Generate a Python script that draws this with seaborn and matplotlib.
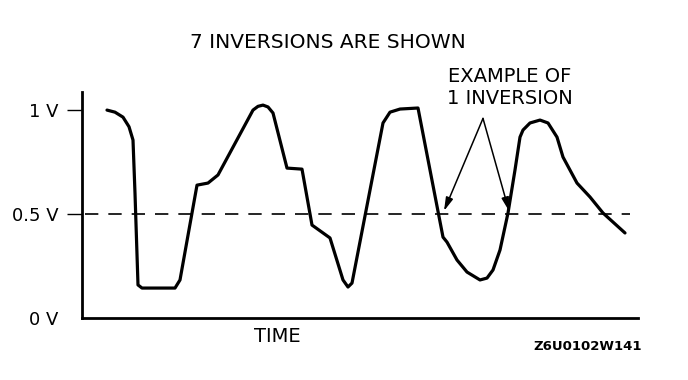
import matplotlib
matplotlib.use("Agg")
import matplotlib.pyplot as plt
import seaborn as sns
import pandas as pd

# --- DATA ---
# time in arbitrary units, signal in volts
time_units = [25, 33, 41, 47, 51, 53, 56, 60, 93, 98, 115, 126, 136, 171, 176, 181,
              186, 191, 205, 220, 230, 248, 261, 266, 270, 301, 308, 318, 336,
              361, 365, 375, 385, 398, 405, 411, 418, 426, 433, 438, 441, 448,
              458, 466, 475, 481, 495, 508, 521, 543]
volts = [1.0, 0.99, 0.966, 0.92, 0.856, 0.60, 0.159, 0.144, 0.144, 0.183, 0.639, 0.649,
         0.688, 1.0, 1.018, 1.024, 1.015, 0.986, 0.721, 0.716, 0.447, 0.385, 0.183,
         0.149, 0.168, 0.938, 0.990, 1.005, 1.01,
         0.389, 0.365, 0.279, 0.221, 0.183, 0.192, 0.231, 0.327, 0.505, 0.712,
         0.870, 0.904, 0.938, 0.952, 0.938, 0.870, 0.774, 0.649, 0.582, 0.505, 0.409]

threshold = 0.5
threshold_span = [3, 548]
ytick_values = [0, 0.5, 1.0]
ytick_labels = ["0 V", "0.5 V", "1 V"]

# inversion example: arrow start and the two crossings it points to
arrow_from = (401, 0.96)
arrow_to = [(362, 0.515), (427, 0.515)]

df = pd.DataFrame({"t": time_units, "v": volts})

sns.set_style("white")
plt.rcParams["font.family"] = ["DejaVu Sans"]
plt.rcParams["text.color"] = "black"

fig = plt.figure(figsize=(6.88, 3.80), dpi=100)
ax = fig.add_axes([82 / 688, 62 / 380, 556 / 688, 226 / 380])

sns.lineplot(data=df, x="t", y="v", sort=False, estimator=None,
             color="black", linewidth=2.3, ax=ax)
ax.lines[-1].set_solid_joinstyle("round")
ax.lines[-1].set_solid_capstyle("round")

# 0.5 V reference line
ax.hlines(threshold, threshold_span[0], threshold_span[1], colors="black",
          linestyles=(0, (8, 6)), linewidth=1.2)

ax.set_xlim(0, 556)
ax.set_ylim(0, 1.087)

for side in ["top", "right"]:
    ax.spines[side].set_visible(False)
for side in ["left", "bottom"]:
    ax.spines[side].set_color("black")
    ax.spines[side].set_linewidth(2)

ax.set_xticks([])
ax.set_yticks(ytick_values)
ax.set_yticklabels(ytick_labels, fontsize=13, color="black")
ax.tick_params(axis="y", direction="out", length=11, width=1, pad=6,
               left=True, colors="black")
ax.yaxis.get_major_ticks()[0].tick1line.set_visible(False)
ax.set_xlabel("")
ax.set_ylabel("")

# annotations
ax.text(195, -0.09, "TIME", fontsize=14, ha="center", va="center", color="black")
ax.text(428, 1.108, "EXAMPLE OF\n1 INVERSION", fontsize=14, ha="center",
        va="center", linespacing=1.2, clip_on=False, color="black")
for tip in arrow_to:
    ax.annotate("", xy=tip, xytext=arrow_from,
                arrowprops=dict(arrowstyle="-|>,head_length=0.8,head_width=0.22",
                                color="black", lw=1.1, shrinkA=0, shrinkB=0))

fig.text(328 / 688, 1 - 42 / 380, "7 INVERSIONS ARE SHOWN", fontsize=14.5,
         ha="center", va="center", color="black")
fig.text(588 / 688, 1 - 347 / 380, "Z6U0102W141", fontsize=9.5,
         fontweight="bold", ha="center", va="center", color="black")

fig.savefig("out.png", dpi=100)
